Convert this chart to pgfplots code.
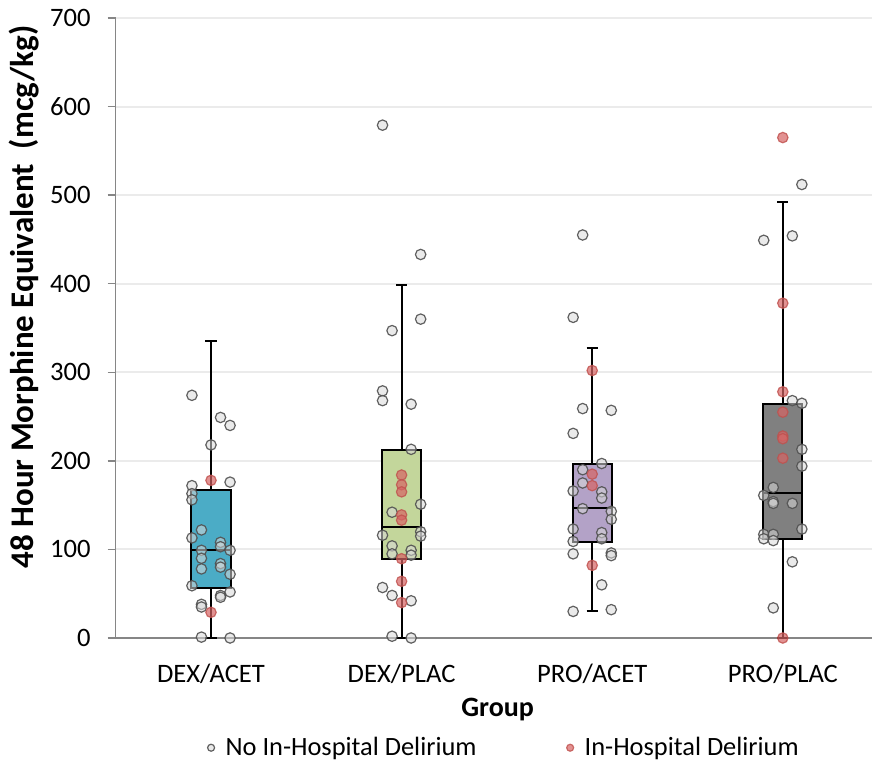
\documentclass[border=0pt]{standalone}
\usepackage{fontspec}
\setmainfont{Carlito}
\usepackage{pgfplots}
\pgfplotsset{compat=1.18}
\definecolor{boxblue}{RGB}{75,172,198}
\definecolor{boxgreen}{RGB}{195,214,155}
\definecolor{boxpurple}{RGB}{179,162,199}
\definecolor{boxgray}{RGB}{128,128,128}
\definecolor{axgray}{RGB}{134,134,134}
\definecolor{gridgray}{RGB}{235,235,235}
\definecolor{ptgray}{RGB}{217,217,217}
\definecolor{ptedge}{RGB}{80,80,80}
\definecolor{redfill}{RGB}{214,100,100}
\definecolor{rededge}{RGB}{192,80,77}
\pgfplotsset{
  nodel/.style={only marks, mark=*, mark size=2.6pt, mark options={fill=ptgray, draw=ptedge, line width=0.6pt, fill opacity=0.55, draw opacity=0.9}},
  del/.style={only marks, mark=*, mark size=2.6pt, mark options={fill=redfill, draw=rededge, line width=0.6pt, fill opacity=0.7, draw opacity=0.8}},
  bxline/.style={forget plot, draw=black, line width=1pt, mark=none},
}
\begin{document}
\begin{tikzpicture}
\begin{axis}[
  scale only axis,
  width=378.15pt, height=310pt,
  xmin=-0.5, xmax=3.468,
  ymin=0, ymax=700,
  ytick={0,100,...,700},
  xtick={0,1,2,3},
  xticklabels={DEX/ACET,DEX/PLAC,PRO/ACET,PRO/PLAC},
  major x tick style={draw=none},
  extra x ticks={-0.5,0.5,1.5,2.5},
  extra x tick labels={},
  extra x tick style={major tick length=7pt, tick style={draw=axgray, line width=0.75pt}, grid=none},
  axis lines*=left,
  axis line style={draw=axgray, line width=0.75pt},
  tick align=outside,
  major tick length=4pt,
  ytick style={draw=axgray, line width=0.75pt},
  ymajorgrids,
  grid style={draw=gridgray, line width=1pt},
  /pgf/number format/assume math mode=true,
  tick label style={font=\fontsize{13.3}{15}\selectfont},
  yticklabel style={xshift=-5pt},
  xticklabel style={yshift=-5.5pt},
  ylabel={48 Hour Morphine Equivalent\ \ (mcg/kg)},
  ylabel style={at={(axis description cs:-0.1213,0.55)}, anchor=center, font=\fontsize{16.5}{18}\selectfont\bfseries},
  xlabel={Group},
  xlabel style={at={(axis description cs:0.505,-0.1274)}, anchor=base, font=\fontsize{14}{16}\selectfont\bfseries},
  clip=false,
  legend columns=2,
  legend style={at={(axis description cs:0.515,-0.177)}, anchor=center, draw=none, fill=none,
    font=\fontsize{13.2}{15}\selectfont,
    /tikz/every odd column/.append style={column sep=3.5pt},
    /tikz/every even column/.append style={column sep=43pt}},
  legend cell align=left,
]
\addlegendimage{nodel, mark size=1.75pt}
\addlegendimage{del, mark size=1.75pt}
\legend{No In-Hospital Delirium, In-Hospital Delirium}

% DEX/ACET box: lw 0, q1 56, med 99, q3 167, uw 335
\addplot[bxline] coordinates {(0,0) (0,56)};
\addplot[bxline] coordinates {(0,167) (0,335)};
\addplot[bxline] coordinates {(-0.029,0) (0.029,0)};
\addplot[bxline] coordinates {(-0.029,335) (0.029,335)};
\addplot[bxline, fill=boxblue] coordinates {(-0.1025,56) (0.1025,56) (0.1025,167) (-0.1025,167)} --cycle;
\addplot[bxline] coordinates {(-0.1025,99) (0.1025,99)};
% DEX/PLAC box: lw 0, q1 89.5, med 125, q3 212.5, uw 398
\addplot[bxline] coordinates {(1,0) (1,89.5)};
\addplot[bxline] coordinates {(1,212.5) (1,398)};
\addplot[bxline] coordinates {(0.971,0) (1.029,0)};
\addplot[bxline] coordinates {(0.971,398) (1.029,398)};
\addplot[bxline, fill=boxgreen] coordinates {(0.8975,89.5) (1.1025,89.5) (1.1025,212.5) (0.8975,212.5)} --cycle;
\addplot[bxline] coordinates {(0.8975,125) (1.1025,125)};
% PRO/ACET box: lw 30, q1 108.5, med 146.5, q3 196, uw 327
\addplot[bxline] coordinates {(2,30) (2,108.5)};
\addplot[bxline] coordinates {(2,196) (2,327)};
\addplot[bxline] coordinates {(1.971,30) (2.029,30)};
\addplot[bxline] coordinates {(1.971,327) (2.029,327)};
\addplot[bxline, fill=boxpurple] coordinates {(1.8975,108.5) (2.1025,108.5) (2.1025,196) (1.8975,196)} --cycle;
\addplot[bxline] coordinates {(1.8975,146.5) (2.1025,146.5)};
% PRO/PLAC box: lw 0, q1 111.5, med 164, q3 264, uw 492
\addplot[bxline] coordinates {(3,0) (3,111.5)};
\addplot[bxline] coordinates {(3,264) (3,492)};
\addplot[bxline] coordinates {(2.971,0) (3.029,0)};
\addplot[bxline] coordinates {(2.971,492) (3.029,492)};
\addplot[bxline, fill=boxgray] coordinates {(2.8975,111.5) (3.1025,111.5) (3.1025,264) (2.8975,264)} --cycle;
\addplot[bxline] coordinates {(2.8975,164) (3.1025,164)};

% No delirium
\addplot[forget plot, nodel] coordinates {
(-0.1,274) (0.05,249) (0.1,240) (0,218) (0.1,176) (-0.1,172) (-0.1,163) (-0.1,156)
(-0.05,122) (-0.1,113) (0.05,108) (0.05,103) (-0.05,99) (0.1,99) (-0.05,90) (0.05,84)
(0.05,80) (0.1,72) (-0.05,78) (-0.1,59) (0.1,52) (0.05,48) (0.05,46) (-0.05,38)
(-0.05,35) (-0.05,1) (0.1,0)
};
\addplot[forget plot, nodel] coordinates {
(0.9,579) (1.1,433) (1.1,360) (0.95,347) (0.9,279) (0.9,268) (1.05,264) (1.05,213)
(1.1,151) (0.95,142) (1.1,120) (1.1,115) (0.9,116) (0.95,104) (0.95,95) (1.05,99)
(1.05,93.5) (0.9,57) (0.95,48) (1.05,42) (0.95,2) (1.05,0)
};
\addplot[forget plot, nodel] coordinates {
(1.95,455) (1.9,362) (1.95,259) (2.1,257) (1.9,231) (2.05,197) (1.95,190) (1.95,175)
(1.9,166) (2.05,165) (2.05,158) (1.95,146) (2.1,143) (2.1,134) (1.9,123) (2.05,119)
(2.05,112) (1.9,109) (2.1,96) (2.1,93) (1.9,95) (2.05,60) (1.9,30) (2.1,32)
};
\addplot[forget plot, nodel] coordinates {
(3.1,512) (2.9,449) (3.05,454) (3.05,268) (3.1,265) (3.1,213) (3.1,194) (2.95,170)
(2.9,161) (2.95,154) (2.95,152) (3.05,152) (3.1,123) (2.9,117) (2.95,117) (2.9,112)
(2.95,110) (3.05,86) (2.95,34)
};
% Delirium
\addplot[forget plot, del] coordinates {
(0,178) (0,29)
(1,184) (1,173) (1,165) (1,139) (1,133) (1,89.5) (1,64) (1,40)
(2,302) (2,185) (2,172) (2,82)
(3,565) (3,378) (3,278) (3,255) (3,228) (3,225) (3,203) (3,0)
};
\coordinate (o) at (axis cs:-0.5,0);
\end{axis}
\pgfresetboundingbox
\path (o) ++(-57.85pt,-65.5pt) rectangle ++(436pt,384.5pt);
\end{tikzpicture}
\end{document}
